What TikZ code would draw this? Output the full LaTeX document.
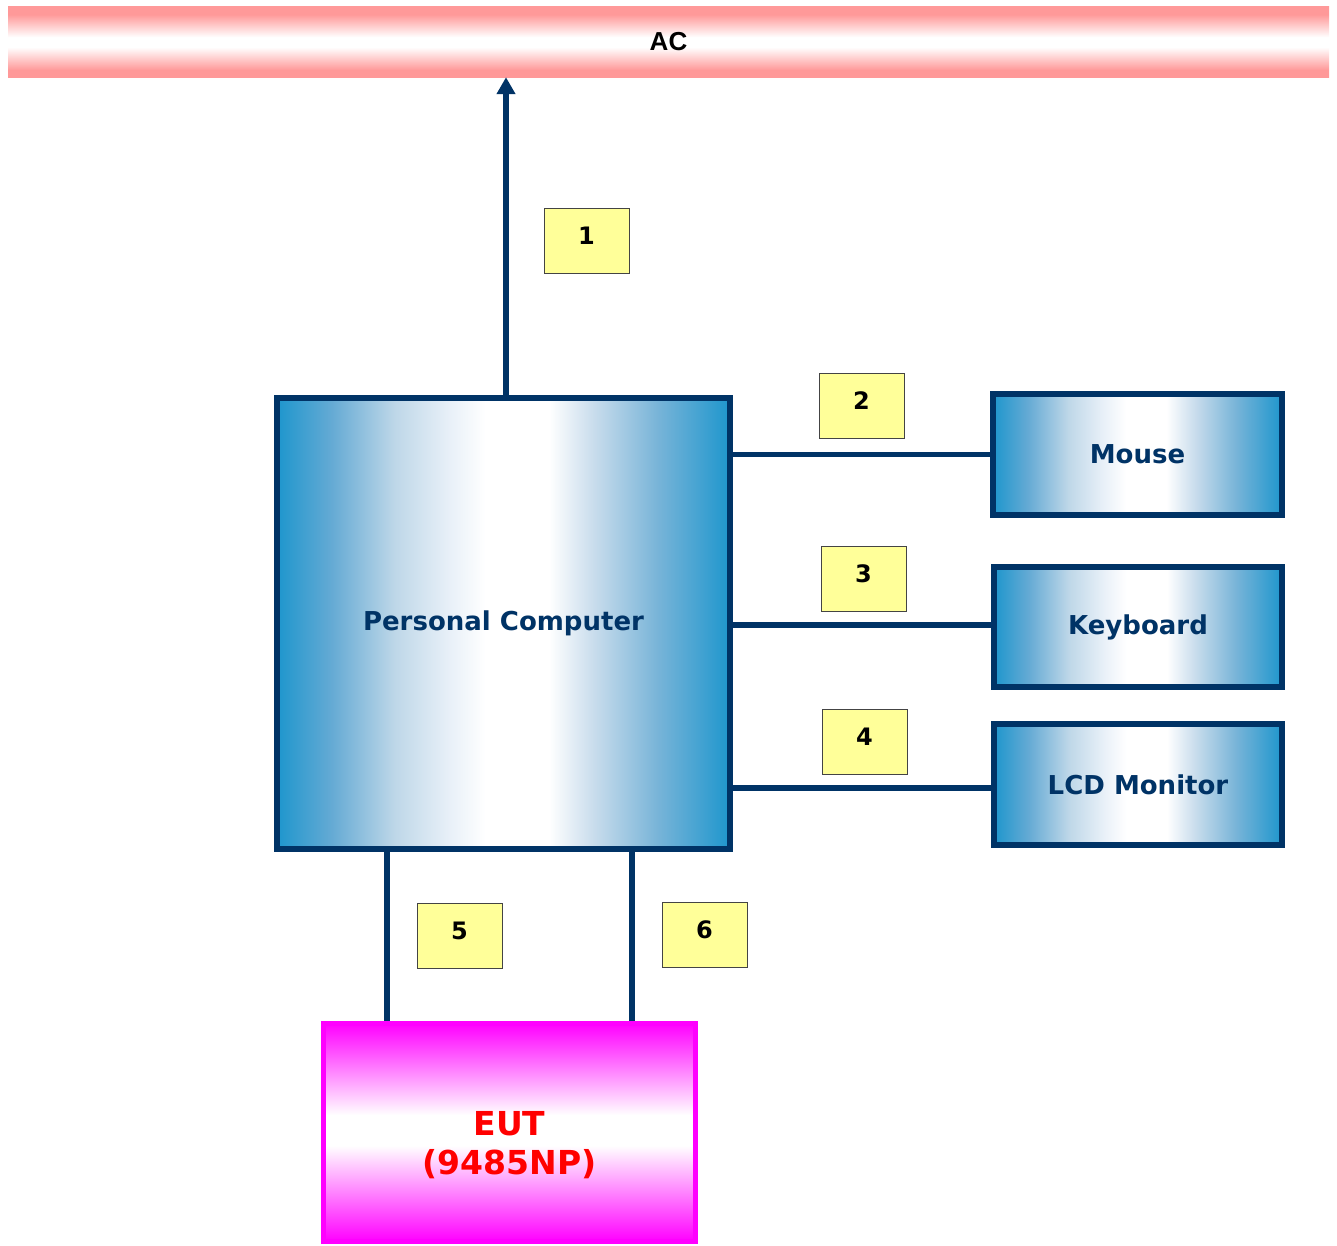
\documentclass[tikz,border=0pt]{standalone}
\usepackage{fontspec}
\setmainfont{DejaVu Sans}
\newfontfamily\acfont{Liberation Sans}
\usetikzlibrary{arrows.meta}
\definecolor{navy}{HTML}{003366}
\definecolor{cblue}{RGB}{30,150,205}
\definecolor{cb1}{RGB}{100,170,212}
\definecolor{cb2}{RGB}{190,215,232}
\definecolor{cb3}{RGB}{232,240,248}
\definecolor{cb4}{RGB}{200,220,236}
\definecolor{cb5}{RGB}{120,180,216}
\definecolor{acpink}{HTML}{FF9999}
\definecolor{labyel}{HTML}{FFFF99}
\definecolor{labgray}{HTML}{444444}
\definecolor{mag}{HTML}{FF00FF}
\pgfdeclarehorizontalshading{devshade}{100bp}{color(0bp)=(cblue); color(25bp)=(cblue); color(31bp)=(cb1); color(38bp)=(cb2); color(44bp)=(cb3); color(48bp)=(white); color(55bp)=(white); color(60bp)=(cb4); color(67bp)=(cb5); color(75bp)=(cblue); color(100bp)=(cblue)}
\pgfdeclareverticalshading{acshade}{100bp}{color(0bp)=(acpink); color(30bp)=(acpink); color(46bp)=(white); color(53bp)=(white); color(69bp)=(acpink); color(100bp)=(acpink)}
\pgfdeclareverticalshading{eutshade}{100bp}{color(0bp)=(mag); color(25bp)=(mag); color(47bp)=(white); color(54bp)=(white); color(75bp)=(mag); color(100bp)=(mag)}
\tikzset{
  device/.style={draw=navy, line width=6pt, shading=devshade, rectangle, inner sep=0pt,
    text=navy, font=\fontsize{26}{30}\selectfont\bfseries},
  numlabel/.style={draw=labgray, line width=1pt, fill=labyel, rectangle, inner sep=0pt,
    minimum width=85pt, minimum height=65pt, text height=17.5pt, text depth=9pt,
    font=\fontsize{24}{28}\selectfont\bfseries},
  cable/.style={draw=navy, line width=5.5pt},
}
\begin{document}
\begin{tikzpicture}[x=1pt, y=-1pt]
\useasboundingbox (0,0) rectangle (1337,1245);
% AC bar
\node[rectangle, shading=acshade, inner sep=0pt, minimum width=1321pt, minimum height=71pt,
  font=\acfont\fontsize{26}{30}\selectfont\bfseries] (ac) at (668.5,41.5) {AC};
% devices
\node[device, minimum width=453pt, minimum height=451pt] (pc) at (503.5,623.5) {Personal Computer};
\node[device, minimum width=289pt, minimum height=121pt] (mouse) at (1137.5,454.5) {Mouse};
\node[device, minimum width=288pt, minimum height=120pt] (kb) at (1138,627) {Keyboard};
\node[device, minimum width=288pt, minimum height=121pt] (lcd) at (1138,784.5) {LCD Monitor};
\node[rectangle, draw=mag, line width=5pt, shading=eutshade, inner sep=0pt,
  minimum width=372pt, minimum height=218pt, text=red, text height=60pt, text depth=18pt,
  font=\fontsize{33}{39}\selectfont\bfseries] (eut) at (509.5,1132.5)
  {\begin{tabular}{@{}c@{}}EUT\\(9485NP)\end{tabular}};
% connector x positions
\coordinate (x1) at (506,0);
\coordinate (x5) at (387,0);
\coordinate (x6) at (632,0);
% connectors
\draw[cable, -{Triangle[width=18pt,length=17pt]}] (pc.north -| x1) -- (ac.south -| x1);
\draw[cable] (pc.east |- mouse.west) -- (mouse.west);
\draw[cable] ([yshift=2pt]pc.east |- kb.west) -- ([yshift=2pt]kb.west);
\draw[cable] ([yshift=-3.5pt]pc.east |- lcd.west) -- ([yshift=-3.5pt]lcd.west);
\draw[cable] (pc.south -| x5) -- (eut.north -| x5);
\draw[cable] (pc.south -| x6) -- (eut.north -| x6);
% number labels
\node[numlabel] (n1) at (586.5,240.5) {1};
\node[numlabel] (n2) at (861.5,405.5) {2};
\node[numlabel] (n3) at (863.5,578.5) {3};
\node[numlabel] (n4) at (864.5,741.5) {4};
\node[numlabel] (n5) at (459.5,935.5) {5};
\node[numlabel] (n6) at (704.5,934.5) {6};
\end{tikzpicture}
\end{document}
